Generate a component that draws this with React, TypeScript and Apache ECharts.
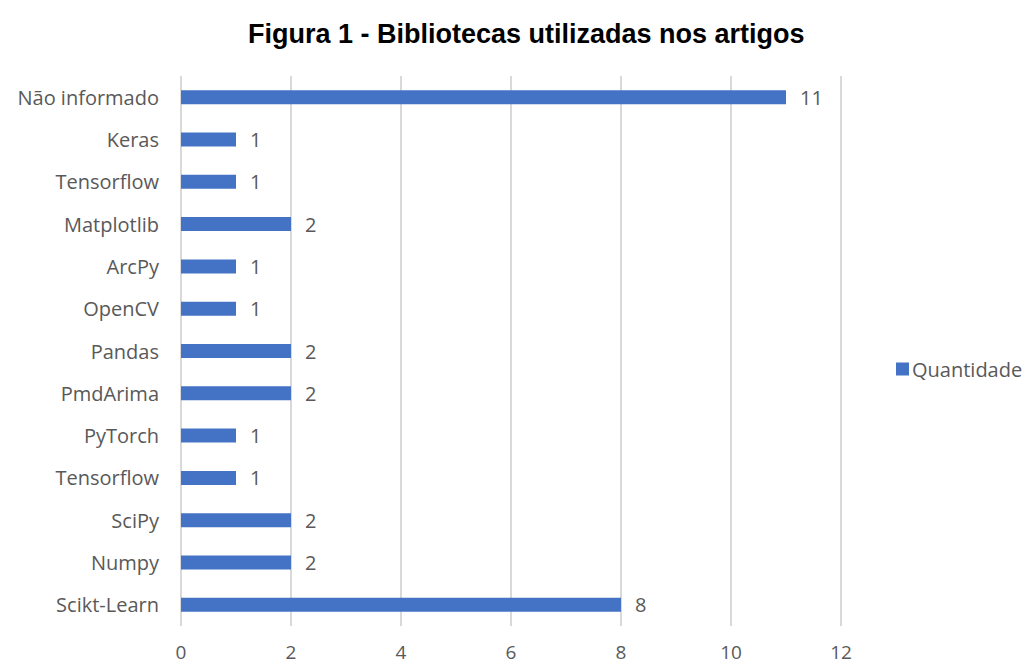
import React, { useEffect, useRef } from "react";
import * as echarts from "echarts";

const title = "Figura 1 - Bibliotecas utilizadas nos artigos";
const seriesName = "Quantidade";
const categories = [
  "Não informado",
  "Keras",
  "Tensorflow",
  "Matplotlib",
  "ArcPy",
  "OpenCV",
  "Pandas",
  "PmdArima",
  "PyTorch",
  "Tensorflow",
  "SciPy",
  "Numpy",
  "Scikt-Learn",
];
const values = [11, 1, 1, 2, 1, 1, 2, 2, 1, 1, 2, 2, 8];
const xTicks = { min: 0, max: 12, interval: 2 };

export default function App() {
  const ref = useRef<HTMLDivElement>(null);
  useEffect(() => {
    if (!ref.current) return;
    const chart = echarts.init(ref.current, undefined, { renderer: "svg" });
    const font = "'Open Sans', Lato, sans-serif";
    chart.setOption({
      animation: false,
      backgroundColor: "#ffffff",
      title: {
        text: title,
        left: 243,
        top: 15,
        textStyle: {
          fontFamily: "'Liberation Sans', Arial, sans-serif",
          fontWeight: "bold",
          fontSize: 27,
          color: "#000000",
        },
      },
      legend: {
        data: [seriesName],
        left: 891,
        top: 354,
        icon: "rect",
        itemWidth: 13,
        itemHeight: 13,
        itemGap: 4,
        textStyle: { fontFamily: font, fontSize: 20, color: "#595959", padding: [0, 0, 0, -2] },
      },
      grid: { left: 181, right: 189, top: 76, bottom: 40, containLabel: false },
      xAxis: {
        type: "value",
        min: xTicks.min,
        max: xTicks.max,
        interval: xTicks.interval,
        axisLine: { show: false },
        axisTick: { show: false },
        axisLabel: { fontFamily: font, fontSize: 19, color: "#595959", margin: 16 },
        splitLine: { show: true, lineStyle: { color: "#d9d9d9", width: 2 } },
      },
      yAxis: {
        type: "category",
        data: categories,
        inverse: true,
        axisLine: { show: false },
        axisTick: { show: false },
        axisLabel: { fontFamily: font, fontSize: 20, color: "#595959", margin: 22 },
      },
      series: [
        {
          name: seriesName,
          type: "bar",
          data: values,
          barWidth: 14,
          itemStyle: { color: "#4472c4" },
          label: {
            show: true,
            position: "right",
            distance: 14,
            fontFamily: font,
            fontSize: 20,
            color: "#595959",
          },
        },
      ],
    });
    return () => chart.dispose();
  }, []);
  return (
    <div
      ref={ref}
      style={{ position: "fixed", left: 0, top: 0, width: 1030, height: 666 }}
    />
  );
}
